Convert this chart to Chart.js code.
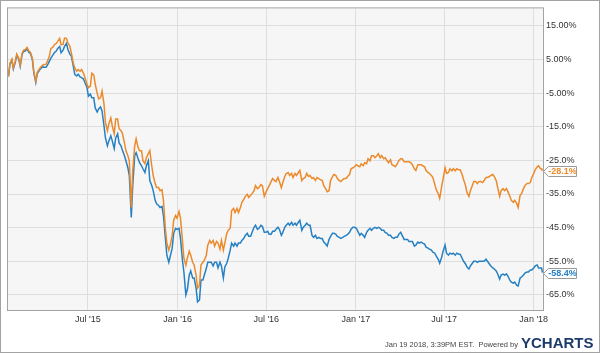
<!DOCTYPE html>
<html>
<head>
<meta charset="utf-8">
<script src="https://cdn.jsdelivr.net/npm/chart.js@4/dist/chart.umd.min.js"></script>
<style>
  html,body{margin:0;padding:0;background:#fff;}
  canvas{display:block;}
</style>
</head>
<body>
<canvas id="chart" width="600" height="353"></canvas>
<script>
// ---- data (twice-weekly closes, % change since start) ----
const startDate = '2015-01-19';
const dates = [
  '2015-01-19','2015-01-22','2015-01-26','2015-01-29','2015-02-02','2015-02-05','2015-02-09','2015-02-12','2015-02-16','2015-02-19',
  '2015-02-23','2015-02-26','2015-03-02','2015-03-05','2015-03-09','2015-03-12','2015-03-16','2015-03-19','2015-03-23','2015-03-26',
  '2015-03-30','2015-04-02','2015-04-06','2015-04-09','2015-04-13','2015-04-16','2015-04-20','2015-04-23','2015-04-27','2015-04-30',
  '2015-05-04','2015-05-07','2015-05-11','2015-05-14','2015-05-18','2015-05-21','2015-05-25','2015-05-28','2015-06-01','2015-06-04',
  '2015-06-08','2015-06-11','2015-06-15','2015-06-18','2015-06-22','2015-06-25','2015-06-29','2015-07-02','2015-07-06','2015-07-09',
  '2015-07-13','2015-07-16','2015-07-20','2015-07-23','2015-07-27','2015-07-30','2015-08-03','2015-08-06','2015-08-10','2015-08-13',
  '2015-08-17','2015-08-20','2015-08-24','2015-08-27','2015-08-31','2015-09-03','2015-09-07','2015-09-10','2015-09-14','2015-09-17',
  '2015-09-21','2015-09-24','2015-09-28','2015-10-01','2015-10-05','2015-10-08','2015-10-12','2015-10-15','2015-10-19','2015-10-22',
  '2015-10-26','2015-10-29','2015-11-02','2015-11-05','2015-11-09','2015-11-12','2015-11-16','2015-11-19','2015-11-23','2015-11-26',
  '2015-11-30','2015-12-03','2015-12-07','2015-12-10','2015-12-14','2015-12-17','2015-12-21','2015-12-24','2015-12-28','2015-12-31',
  '2016-01-04','2016-01-07','2016-01-11','2016-01-14','2016-01-18','2016-01-21','2016-01-25','2016-01-28','2016-02-01','2016-02-04',
  '2016-02-08','2016-02-11','2016-02-15','2016-02-18','2016-02-22','2016-02-25','2016-02-29','2016-03-03','2016-03-07','2016-03-10',
  '2016-03-14','2016-03-17','2016-03-21','2016-03-24','2016-03-28','2016-03-31','2016-04-04','2016-04-07','2016-04-11','2016-04-14',
  '2016-04-18','2016-04-21','2016-04-25','2016-04-28','2016-05-02','2016-05-05','2016-05-09','2016-05-12','2016-05-16','2016-05-19',
  '2016-05-23','2016-05-26','2016-05-30','2016-06-02','2016-06-06','2016-06-09','2016-06-13','2016-06-16','2016-06-20','2016-06-23',
  '2016-06-27','2016-06-30','2016-07-04','2016-07-07','2016-07-11','2016-07-14','2016-07-18','2016-07-21','2016-07-25','2016-07-28',
  '2016-08-01','2016-08-04','2016-08-08','2016-08-11','2016-08-15','2016-08-18','2016-08-22','2016-08-25','2016-08-29','2016-09-01',
  '2016-09-05','2016-09-08','2016-09-12','2016-09-15','2016-09-19','2016-09-22','2016-09-26','2016-09-29','2016-10-03','2016-10-06',
  '2016-10-10','2016-10-13','2016-10-17','2016-10-20','2016-10-24','2016-10-27','2016-10-31','2016-11-03','2016-11-07','2016-11-10',
  '2016-11-14','2016-11-17','2016-11-21','2016-11-24','2016-11-28','2016-12-01','2016-12-05','2016-12-08','2016-12-12','2016-12-15',
  '2016-12-19','2016-12-22','2016-12-26','2016-12-29','2017-01-02','2017-01-05','2017-01-09','2017-01-12','2017-01-16','2017-01-19',
  '2017-01-23','2017-01-26','2017-01-30','2017-02-02','2017-02-06','2017-02-09','2017-02-13','2017-02-16','2017-02-20','2017-02-23',
  '2017-02-27','2017-03-02','2017-03-06','2017-03-09','2017-03-13','2017-03-16','2017-03-20','2017-03-23','2017-03-27','2017-03-30',
  '2017-04-03','2017-04-06','2017-04-10','2017-04-13','2017-04-17','2017-04-20','2017-04-24','2017-04-27','2017-05-01','2017-05-04',
  '2017-05-08','2017-05-11','2017-05-15','2017-05-18','2017-05-22','2017-05-25','2017-05-29','2017-06-01','2017-06-05','2017-06-08',
  '2017-06-12','2017-06-15','2017-06-19','2017-06-22','2017-06-26','2017-06-29','2017-07-03','2017-07-06','2017-07-10','2017-07-13',
  '2017-07-17','2017-07-20','2017-07-24','2017-07-27','2017-07-31','2017-08-03','2017-08-07','2017-08-10','2017-08-14','2017-08-17',
  '2017-08-21','2017-08-24','2017-08-28','2017-08-31','2017-09-04','2017-09-07','2017-09-11','2017-09-14','2017-09-18','2017-09-21',
  '2017-09-25','2017-09-28','2017-10-02','2017-10-05','2017-10-09','2017-10-12','2017-10-16','2017-10-19','2017-10-23','2017-10-26',
  '2017-10-30','2017-11-02','2017-11-06','2017-11-09','2017-11-13','2017-11-16','2017-11-20','2017-11-23','2017-11-27','2017-11-30',
  '2017-12-04','2017-12-07','2017-12-11','2017-12-14','2017-12-18','2017-12-21','2017-12-25','2017-12-28','2018-01-01','2018-01-04',
  '2018-01-08','2018-01-11','2018-01-15','2018-01-17','2018-01-19'
];
const orangeVals = [
  0.0, 3.9, 5.1, 2.5, 4.5, 6.6, 5.4, 3.3, 6.9, 7.8,
  8.0, 8.6, 7.5, 7.2, 5.4, 1.5, -1.4, 1.2, 2.1, 2.7,
  3.3, 3.5, 3.6, 4.5, 6.0, 8.3, 8.6, 9.4, 9.8, 10.4,
  11.3, 9.4, 9.5, 11.4, 11.3, 9.9, 8.9, 7.0, 3.9, 2.5,
  1.5, 2.0, 1.5, 2.0, 0.9, -0.4, -2.3, -3.4, -2.9, 0.9,
  0.4, -2.3, -5.0, -6.7, -6.4, -4.4, -8.2, -13.8, -16.2, -14.1,
  -12.4, -14.7, -17.1, -12.7, -12.7, -15.6, -16.2, -17.1, -19.8, -22.1,
  -23.6, -25.1, -39.0, -28.0, -20.7, -18.6, -21.2, -22.1, -22.1, -25.1,
  -26.0, -24.2, -23.0, -22.1, -26.6, -29.5, -31.9, -33.1, -33.1, -34.0,
  -33.7, -36.9, -45.3, -49.6, -51.7, -50.2, -47.3, -42.8, -41.4, -42.2,
  -40.2, -42.2, -48.8, -54.1, -56.2, -54.1, -52.0, -53.2, -55.3, -56.1,
  -59.1, -63.0, -62.1, -56.1, -55.3, -54.7, -53.2, -50.2, -48.8, -49.6,
  -48.8, -50.5, -49.1, -49.6, -51.4, -48.8, -51.7, -49.6, -46.7, -45.8,
  -45.2, -39.9, -39.3, -40.5, -39.3, -40.5, -39.0, -37.5, -36.6, -35.7,
  -35.1, -36.0, -35.4, -34.9, -34.0, -32.5, -33.4, -33.1, -32.2, -32.5,
  -35.7, -34.6, -33.4, -32.5, -31.3, -30.4, -31.0, -31.3, -30.1, -31.3,
  -33.1, -31.6, -29.8, -28.9, -28.6, -29.5, -28.9, -30.1, -28.9, -29.5,
  -28.6, -28.0, -31.0, -30.4, -30.1, -28.9, -29.8, -29.5, -30.4, -30.1,
  -31.0, -30.1, -30.4, -30.7, -31.0, -32.5, -33.4, -34.3, -34.0, -31.0,
  -29.8, -29.2, -29.5, -30.4, -31.0, -31.3, -30.7, -30.4, -30.4, -29.8,
  -29.2, -27.5, -27.2, -26.9, -26.3, -26.6, -26.9, -26.0, -26.6, -25.7,
  -26.0, -24.5, -25.1, -23.6, -23.6, -24.2, -23.6, -23.0, -24.2, -23.6,
  -24.5, -24.2, -25.1, -25.7, -24.8, -26.3, -26.6, -26.9, -26.0, -25.1,
  -24.5, -24.5, -25.4, -25.4, -25.4, -25.4, -25.7, -26.3, -27.5, -28.0,
  -26.3, -26.3, -26.3, -26.6, -26.9, -28.0, -28.6, -28.9, -29.5, -30.1,
  -32.2, -33.7, -34.9, -36.3, -32.8, -30.4, -27.2, -28.9, -28.6, -27.5,
  -28.1, -27.5, -28.1, -27.5, -27.8, -27.8, -29.2, -30.7, -32.5, -34.6,
  -35.7, -34.0, -32.5, -31.3, -31.3, -31.9, -31.3, -31.3, -31.6, -31.0,
  -30.1, -30.1, -29.8, -29.5, -29.2, -29.8, -31.0, -33.1, -35.7, -34.0,
  -33.4, -34.0, -33.4, -34.3, -35.7, -36.9, -37.5, -36.9, -37.8, -39.0,
  -35.4, -34.9, -33.4, -32.5, -31.9, -31.9, -31.6, -30.1, -28.9, -27.8,
  -26.9, -26.6, -27.5, -27.5, -28.1
];
const blueVals = [
  0.0, 3.6, 4.8, 2.2, 4.2, 6.3, 5.1, 3.0, 6.6, 7.4,
  7.6, 8.2, 7.1, 6.8, 5.0, 1.0, -1.8, 0.8, 1.7, 2.3,
  2.8, 2.7, 2.7, 3.3, 4.5, 5.4, 6.3, 7.0, 7.5, 8.3,
  8.9, 7.0, 7.8, 8.9, 9.8, 8.0, 6.6, 6.0, 3.0, 0.6,
  0.1, 0.6, -0.2, -0.4, -0.8, -1.9, -3.2, -5.9, -5.3, -6.4,
  -6.4, -9.4, -10.6, -9.7, -9.1, -10.3, -14.7, -18.3, -20.7, -19.2,
  -17.7, -19.2, -21.5, -18.3, -17.1, -19.8, -20.7, -22.1, -23.6, -25.1,
  -27.2, -29.5, -42.0, -32.5, -23.6, -22.7, -24.5, -25.7, -26.6, -27.5,
  -28.6, -26.6, -25.1, -31.0, -32.5, -34.0, -36.9, -37.9, -38.4, -39.0,
  -38.7, -41.4, -48.2, -53.2, -55.3, -53.5, -51.1, -46.7, -45.2, -45.5,
  -45.2, -48.2, -54.7, -58.2, -65.0, -63.5, -59.1, -57.9, -60.0, -60.0,
  -63.0, -67.1, -66.5, -60.6, -60.6, -59.1, -57.1, -55.3, -55.3, -55.3,
  -56.4, -55.3, -55.3, -57.0, -55.3, -56.4, -60.0, -56.7, -55.6, -54.1,
  -51.7, -49.6, -50.5, -49.6, -50.5, -49.6, -49.6, -48.8, -48.2, -47.3,
  -46.7, -47.6, -47.6, -46.4, -44.9, -44.3, -45.5, -45.2, -44.3, -44.6,
  -46.4, -46.4, -46.1, -47.0, -47.0, -46.1, -46.1, -45.5, -44.9, -45.5,
  -47.3, -46.4, -44.9, -44.3, -43.7, -44.3, -43.4, -44.3, -43.7, -44.3,
  -43.4, -42.8, -45.8, -44.9, -44.3, -43.7, -44.3, -44.3, -47.3, -47.9,
  -47.3, -48.2, -47.9, -48.2, -48.2, -49.3, -49.9, -50.5, -48.5, -47.6,
  -46.7, -46.7, -47.0, -47.6, -47.9, -48.2, -47.9, -47.6, -47.3, -47.0,
  -46.4, -45.5, -44.9, -44.9, -45.2, -46.1, -47.3, -46.7, -47.3, -47.9,
  -46.4, -45.8, -45.2, -45.8, -45.2, -44.9, -45.2, -44.9, -45.2, -45.8,
  -45.8, -46.4, -46.7, -47.3, -47.3, -47.9, -48.2, -47.9, -47.9, -47.0,
  -46.4, -47.3, -48.5, -48.5, -48.5, -49.1, -49.1, -49.1, -50.5, -50.2,
  -49.3, -49.6, -49.3, -49.6, -49.9, -50.8, -51.1, -51.4, -51.7, -52.3,
  -52.6, -53.5, -54.4, -55.6, -53.8, -52.0, -50.2, -52.6, -53.2, -52.6,
  -52.9, -52.6, -53.2, -52.6, -52.9, -52.9, -54.1, -55.0, -55.8, -56.7,
  -57.3, -56.4, -55.6, -55.0, -55.0, -55.3, -55.0, -55.0, -55.0, -55.0,
  -54.4, -55.0, -55.8, -56.4, -57.0, -57.3, -57.9, -58.8, -60.3, -59.1,
  -58.8, -59.1, -58.8, -59.4, -60.6, -61.2, -61.5, -61.2, -62.1, -62.4,
  -60.0, -59.7, -59.1, -58.5, -58.2, -58.2, -57.6, -57.6, -57.0, -56.4,
  -56.1, -57.0, -57.0, -57.0, -58.4
];
const endLabels = ['-28.1%', '-58.4%'];

const xTickDates = ['2015-07-01','2016-01-01','2016-07-01','2017-01-01','2017-07-01','2018-01-01'];
const xTickLabels = ["Jul '15","Jan '16","Jul '16","Jan '17","Jul '17","Jan '18"];
const yTickValues = [15, 5, -5, -15, -25, -35, -45, -55, -65];
const yTickLabels = ['15.00%','5.00%','-5.00%','-15.0%','-25.0%','-35.0%','-45.0%','-55.0%','-65.0%'];

const COLORS = { orange:'#ec8a2b', blue:'#2581c4', grid:'#dedede', plotBg:'#f6f6f6', frame:'#a3a3a3', text:'#333' };
const FONT = '"Liberation Sans", Arial, sans-serif';

const dayOf = d => (Date.parse(d) - Date.parse(startDate)) / 86400000;
const toPoints = vals => vals.map((v, i) => ({ x: dayOf(dates[i]), y: v }));
const xTickDays = xTickDates.map(dayOf);

// fondo del área, marcos, etiquetas finales y pie
const decor = {
  id: 'decor',
  beforeDraw(chart) {
    const { ctx, chartArea: a } = chart;
    ctx.save();
    ctx.fillStyle = COLORS.plotBg;
    ctx.fillRect(a.left, a.top, a.right - a.left, a.bottom - a.top);
    ctx.restore();
  },
  afterDatasetsDraw(chart) {
    const { ctx, chartArea: a, scales } = chart;
    ctx.save();
    ctx.strokeStyle = COLORS.frame;
    ctx.lineWidth = 1;
    ctx.strokeRect(a.left - 0.5, a.top - 0.5, a.right - a.left + 1, a.bottom - a.top + 1);
    ctx.strokeRect(0.5, 0.5, chart.width - 1, chart.height - 1);

    chart.data.datasets.forEach((ds, i) => {
      const last = ds.data[ds.data.length - 1].y;
      const y = Math.round(scales.y.getPixelForValue(last)) + 0.5;
      const x0 = a.right + 0.5;
      ctx.beginPath();
      ctx.moveTo(x0, y);
      ctx.lineTo(x0 + 5, y - 5);
      ctx.lineTo(x0 + 33, y - 5);
      ctx.lineTo(x0 + 33, y + 5);
      ctx.lineTo(x0 + 5, y + 5);
      ctx.closePath();
      ctx.fillStyle = '#fff';
      ctx.fill();
      ctx.strokeStyle = '#9a9a9a';
      ctx.stroke();
      ctx.fillStyle = ds.borderColor;
      ctx.font = 'bold 9px ' + FONT;
      ctx.textAlign = 'center';
      ctx.textBaseline = 'middle';
      ctx.fillText(endLabels[i], x0 + 19, y + 0.5);
    });

    ctx.fillStyle = '#444';
    ctx.font = '7.5px ' + FONT;
    ctx.textAlign = 'right';
    ctx.textBaseline = 'alphabetic';
    ctx.fillText('Jan 19 2018, 3:39PM EST.  Powered by', 518, 347);
    ctx.fillStyle = '#1d3b6a';
    ctx.font = 'bold 15px ' + FONT;
    ctx.textAlign = 'left';
    ctx.fillText('YCHARTS', 521, 348);
    ctx.restore();
  }
};

new Chart(document.getElementById('chart'), {
  type: 'line',
  data: {
    datasets: [
      { data: toPoints(orangeVals), borderColor: COLORS.orange, borderWidth: 1.5, pointRadius: 0, tension: 0 },
      { data: toPoints(blueVals), borderColor: COLORS.blue, borderWidth: 1.5, pointRadius: 0, tension: 0 }
    ]
  },
  options: {
    responsive: false, animation: false, devicePixelRatio: 1,
    layout: { padding: { left: 8, top: 7, right: 0, bottom: 0 } },
    plugins: { legend: { display: false }, tooltip: { enabled: false } },
    scales: {
      x: {
        type: 'linear', min: -1, max: 1097,
        afterBuildTicks: s => { s.ticks = xTickDays.map(v => ({ value: v })); },
        afterFit: s => { s.height = 43; },
        grid: { color: COLORS.grid, drawTicks: false },
        border: { display: false },
        ticks: { callback: (v, i) => xTickLabels[i], color: COLORS.text, font: { size: 9, family: FONT }, padding: 4, maxRotation: 0, autoSkip: false }
      },
      y: {
        position: 'right', min: -69.5, max: 20.2,
        afterBuildTicks: s => { s.ticks = yTickValues.map(v => ({ value: v })); },
        afterFit: s => { s.width = 57; },
        grid: { color: COLORS.grid, drawTicks: false },
        border: { display: false },
        ticks: { callback: (v, i) => yTickLabels[i], color: COLORS.text, font: { size: 9, family: FONT }, padding: 3, autoSkip: false }
      }
    }
  },
  plugins: [decor]
});
</script>
</body>
</html>
